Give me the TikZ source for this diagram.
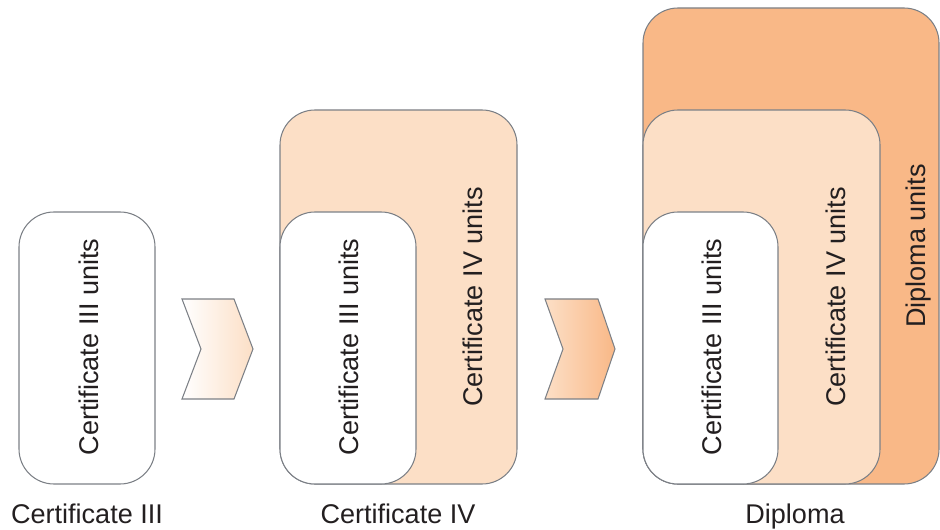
\documentclass[tikz,border=0pt]{standalone}
\usepackage{fontspec}
\setmainfont{Liberation Sans}
\usetikzlibrary{positioning}

\definecolor{linegrey}{HTML}{7C8086}
\definecolor{peachlight}{HTML}{FCDFC6}
\definecolor{peachdark}{HTML}{F9B887}
\definecolor{textdark}{HTML}{231F20}

\tikzset{
	unitbox/.style = {draw = linegrey, line width = 0.6pt, rounded corners = 0.7cm},
	unitlabel/.style = {rotate = 90, anchor = base, inner sep = 0pt, text = textdark, font = \fontsize{15.4}{18}\selectfont},
	levellabel/.style = {anchor = base, inner sep = 0pt, text = textdark, font = \fontsize{15.4}{18}\selectfont},
	chevron/.style = {draw = linegrey, line width = 0.6pt}
}

\begin{document}
\begin{tikzpicture}[x = 0.02cm, y = -0.02cm]
		\useasboundingbox (0, 0) rectangle (940, 530);

		% Certificate III
		\draw [unitbox, fill = white] (19, 212) rectangle (155, 484);
		\node [unitlabel] (c3units) at (98, 347) {Certificate III units};
		\node [levellabel] (c3) at (87, 523) {Certificate III};

		\path [chevron, left color = white, right color = peachlight] (182, 299) -- (234, 299) -- (253, 349) -- (234, 399) -- (182, 399) -- (201, 349) -- cycle;

		% Certificate IV
		\draw [unitbox, fill = peachlight] (280, 110) rectangle (517, 484);
		\draw [unitbox, fill = white] (280, 212) rectangle (416, 484);
		\node [unitlabel] (c4inner) at (358, 347) {Certificate III units};
		\node [unitlabel] (c4units) at (482, 297) {Certificate IV units};
		\node [levellabel] (c4) at (398, 523) {Certificate IV};

		\path [chevron, left color = peachlight, right color = peachdark] (545, 299) -- (598, 299) -- (615, 349) -- (598, 399) -- (545, 399) -- (563, 349) -- cycle;

		% Diploma
		\draw [unitbox, fill = peachdark] (643, 8) rectangle (939, 484);
		\draw [unitbox, fill = peachlight] (643, 110) rectangle (880, 484);
		\draw [unitbox, fill = white] (643, 212) rectangle (778, 484);
		\node [unitlabel] (dipinner) at (721, 347) {Certificate III units};
		\node [unitlabel] (dipmid) at (845, 297) {Certificate IV units};
		\node [unitlabel] (dipunits) at (925, 246) {Diploma units};
		\node [levellabel] (dip) at (795, 523) {Diploma};
	\end{tikzpicture}
\end{document}
